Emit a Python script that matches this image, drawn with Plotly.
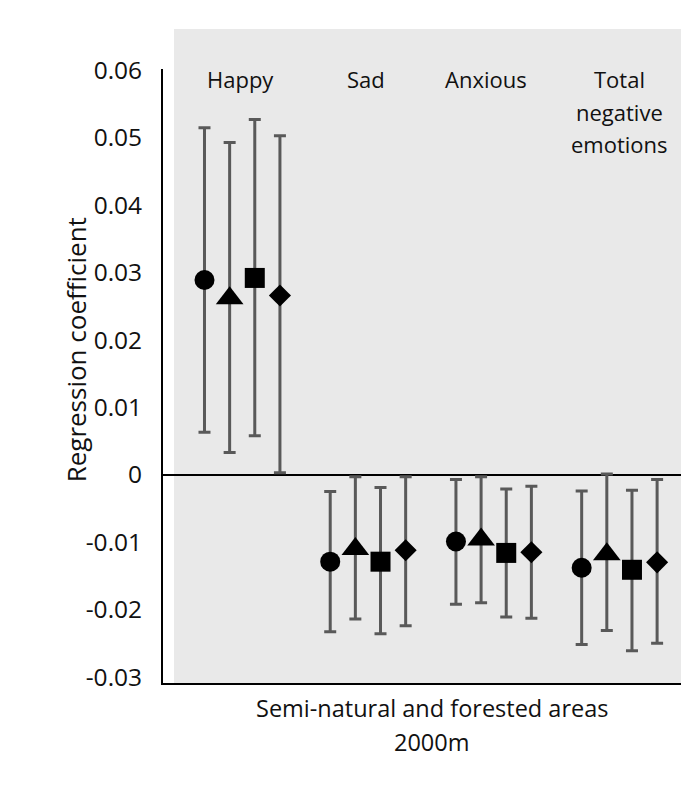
import plotly.graph_objects as go

# ---- data ----
groups = ["Happy", "Sad", "Anxious", "Total<br>negative<br>emotions"]
models = ["Model 1", "Model 2", "Model 3", "Model 4"]
symbols = ["circle", "triangle-up", "square", "diamond"]
marker_sizes = [20, 24, 20, 17]
offsets = [-0.3, -0.1, 0.1, 0.3]

# estimates per model (rows) for each group (cols)
est = [
    [0.0289, -0.0129, -0.0099, -0.0138],
    [0.0262, -0.0110, -0.0096, -0.0118],
    [0.0292, -0.0129, -0.0116, -0.0141],
    [0.0266, -0.0112, -0.0115, -0.0130],
]
upper = [
    [0.0515, -0.0025, -0.0007, -0.0024],
    [0.0493, -0.0003, -0.0003, 0.0001],
    [0.0527, -0.0019, -0.0021, -0.0023],
    [0.0503, -0.0003, -0.0017, -0.0007],
]
lower = [
    [0.0063, -0.0233, -0.0192, -0.0252],
    [0.0033, -0.0214, -0.0190, -0.0231],
    [0.0058, -0.0236, -0.0211, -0.0261],
    [0.0003, -0.0224, -0.0213, -0.0250],
]

ytick_vals = [0.06, 0.05, 0.04, 0.03, 0.02, 0.01, 0, -0.01, -0.02, -0.03]
ytick_text = ["0.06", "0.05", "0.04", "0.03", "0.02", "0.01", "0", "-0.01", "-0.02", "-0.03"]
y_title = "Regression coefficient"
x_title = "Semi-natural and forested areas<br>2000m"

FONT = "Open Sans"
TXT = "#111111"

fig = go.Figure()
for m in range(len(models)):
    xs = [g + offsets[m] for g in range(len(groups))]
    ys = est[m]
    plus = [u - e for u, e in zip(upper[m], ys)]
    minus = [e - l for e, l in zip(ys, lower[m])]
    fig.add_trace(go.Scatter(
        x=xs, y=ys, mode="markers", name=models[m],
        marker=dict(symbol=symbols[m], size=marker_sizes[m], color="black",
                    line=dict(width=0)),
        error_y=dict(type="data", symmetric=False, array=plus, arrayminus=minus,
                     color="#595959", thickness=3, width=6),
        showlegend=False,
    ))

# grey panel behind the data
fig.add_shape(type="rect", xref="paper", yref="paper",
              x0=0.0212, x1=1.0, y0=0.0, y1=1.065,
              fillcolor="#e9e9e9", line=dict(width=0), layer="below")

# group labels (one annotation per text line)
LINE = 32.5
label_xshift = [-2, -2, -8, 0]
for g, name in enumerate(groups):
    for i, part in enumerate(name.split("<br>")):
        fig.add_annotation(x=g, xref="x", y=1.0, yref="paper",
                           yanchor="middle", yshift=-10 - i * LINE,
                           xshift=label_xshift[g],
                           text=part, showarrow=False,
                           font=dict(family=FONT, size=22, color=TXT))

# axis titles as annotations
fig.add_annotation(x=-0.207, xref="paper", y=0.543, yref="paper",
                   text=y_title, textangle=-90, showarrow=False,
                   font=dict(family=FONT, size=26, color=TXT))
for i, part in enumerate(x_title.split("<br>")):
    fig.add_annotation(x=0.519, xref="paper", y=0.0, yref="paper",
                       yanchor="middle", yshift=-25 - i * 34,
                       text=part, showarrow=False,
                       font=dict(family=FONT, size=23.5, color=TXT))

fig.update_layout(
    width=681, height=809,
    margin=dict(l=163, r=0, t=69, b=126),
    paper_bgcolor="white", plot_bgcolor="rgba(0,0,0,0)",
    font=dict(family=FONT, color=TXT),
    xaxis=dict(range=[-0.63, 3.49], showgrid=False, zeroline=False,
               showticklabels=False, ticks="", showline=True,
               linecolor="black", linewidth=2),
    yaxis=dict(range=[-0.0309, 0.0602], showgrid=False, zeroline=True,
               zerolinecolor="black", zerolinewidth=2,
               tickvals=ytick_vals, ticktext=ytick_text, ticks="",
               ticklabelstandoff=14,
               tickfont=dict(family=FONT, size=24.5, color=TXT),
               showline=True, linecolor="black", linewidth=2),
)

fig.write_html("out.html", config={"displayModeBar": False},
               post_script="document.body.style.margin='0';document.body.style.overflow='hidden';")
